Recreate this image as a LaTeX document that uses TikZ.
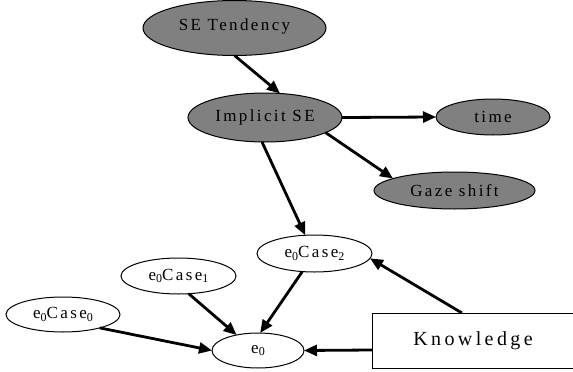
\documentclass[tikz,border=0pt]{standalone}
\usepackage{fontspec}
\setmainfont{Liberation Serif}
\newfontfamily\spfont[LetterSpace=14]{Liberation Serif}
\newfontfamily\kfont[LetterSpace=17]{Liberation Serif}
\usetikzlibrary{shapes.geometric,arrows.meta}
\newcommand\sbz[1]{\raisebox{-0.35ex}{\fontsize{12}{12}\selectfont #1}}
\begin{document}
\begin{tikzpicture}[x=1pt,y=-1pt,
  base/.style={ellipse,draw=black,line width=1pt,inner sep=0pt,outer sep=0pt,font=\spfont\fontsize{17}{20}\selectfont},
  hid/.style={base,fill=gray},
  obs/.style={base,fill=white},
  boxnode/.style={rectangle,draw=black,line width=1pt,fill=white,inner sep=0pt,outer sep=0pt,font=\kfont\fontsize{20}{24}\selectfont},
  edge/.style={line width=2.8pt,-{Triangle[length=13pt,width=11pt]}}]
\clip (0,0) rectangle (573,372);
\fill[white] (0,0) rectangle (573,372);
\node[hid,minimum width=183pt,minimum height=55pt] (se) at (234.5,28) {\raisebox{6pt}{SE Tendency}};
\node[hid,minimum width=154pt,minimum height=49pt] (imp) at (265,117.5) {\raisebox{4pt}{Implicit SE}};
\node[hid,minimum width=114pt,minimum height=36pt] (time) at (493,117) {time};
\node[hid,minimum width=161pt,minimum height=37pt] (gaze) at (454.5,190.5) {Gaze shift};
\node[obs,minimum width=115pt,minimum height=37pt] (c2) at (314.5,253.5) {e\sbz{0}Case\sbz{2}};
\node[obs,minimum width=115pt,minimum height=36pt] (c1) at (178.5,276) {e\sbz{0}Case\sbz{1}};
\node[obs,minimum width=114pt,minimum height=35pt] (c0) at (63,314.5) {e\sbz{0}Case\sbz{0}};
\node[obs,minimum width=92pt,minimum height=35pt] (e0) at (258,350.5) {e\sbz{0}};
\node[boxnode,minimum width=202pt,minimum height=55pt] (kn) at (473,340.5) {Knowledge};
\draw[edge] (se.south) -- (imp.58.5);
\draw[edge] (imp.east) -- (time.west);
\draw[edge] (imp.-14) -- (gaze.169);
\draw[edge] (imp.-97) -- (c2.117);
\draw[edge] ([xshift=-11pt]kn.north) -- (c2.-5);
\draw[edge] ([yshift=-9.5pt]kn.west) -- (e0.east);
\draw[edge] (c2.-124) -- (e0.83);
\draw[edge] (c1.-60) -- (e0.144);
\draw[edge] (c0.-20) -- (e0.west);
\end{tikzpicture}
\end{document}
